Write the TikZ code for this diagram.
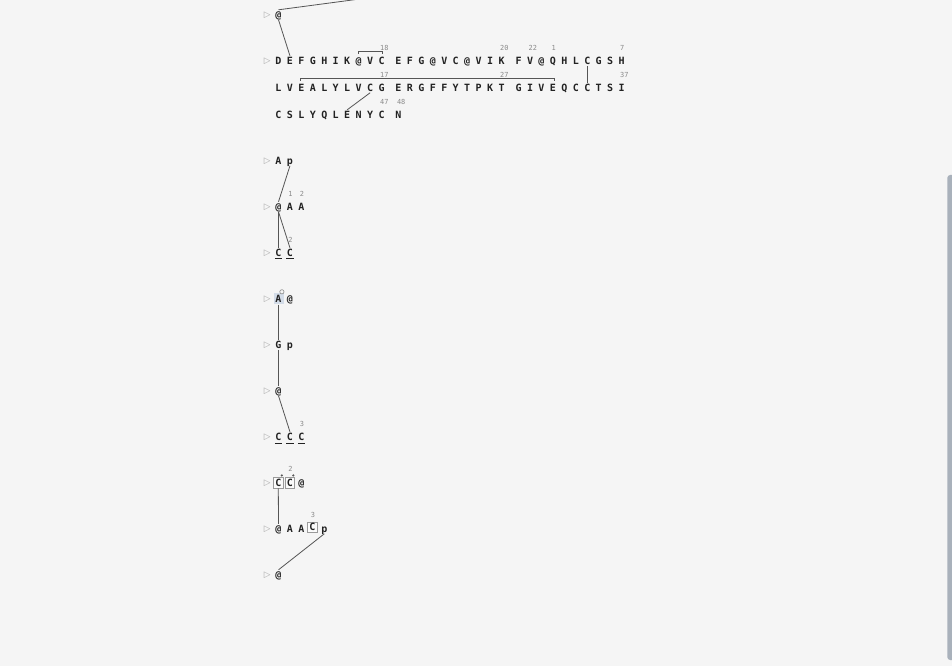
\documentclass[tikz,border=0pt]{standalone}
\usepackage{fontspec}
\setmonofont{DejaVu Sans Mono}
\newfontfamily\symfont{DejaVu Sans}
\usetikzlibrary{calc}
\definecolor{bg}{HTML}{F5F5F5}
\definecolor{ink}{HTML}{222222}
\definecolor{lnk}{HTML}{555555}
\definecolor{lblc}{HTML}{8A8A8A}
\definecolor{mkc}{HTML}{A8A8A8}
\definecolor{hl}{HTML}{D3DCE8}
\definecolor{boxc}{HTML}{9A9A9A}
\definecolor{sbar}{HTML}{A9B1BB}
\begin{document}
\begin{tikzpicture}[x=0.75pt,y=-0.75pt,
  ch/.style={font=\ttfamily\bfseries\fontsize{7.5}{8}\selectfont, text=ink, inner sep=0.9pt, text height=5.3pt, text depth=0pt, anchor=center},
  hlbox/.style={fill=hl, minimum width=7.5pt, minimum height=8.5pt},
  boxed/.style={draw=boxc, line width=0.5pt, fill=white!60!bg, minimum width=7.2pt, minimum height=8pt},
  lbl/.style={font=\ttfamily\fontsize{5.2}{6}\selectfont, text=lblc, inner sep=0pt, anchor=west},
  mk/.style={font=\symfont\fontsize{6.5}{7}\selectfont, text=mkc, inner sep=0pt},
  conn/.style={draw=lnk, line width=0.6pt},
  uline/.style={draw=ink, line width=0.75pt},
  dotn/.style={circle, fill=lnk, inner sep=0pt, minimum size=1.8pt},
  ring/.style={circle, draw=lblc, fill=bg, line width=0.45pt, inner sep=0pt, minimum size=3.2pt}]
\useasboundingbox (0,0) rectangle (952,666);
\fill[bg] (0,0) rectangle (952,666);
\clip (0,0) rectangle (952,666);
% scrollbar
\fill[sbar, rounded corners=2.2] (947.3,175) rectangle (956.5,660);
% markers
\foreach \yy [count=\k] in {14.8,60.8,160.8,206.8,252.8,298.8,344.8,390.8,436.8,482.8,528.8,574.8}
  \node[mk] (m\k) at (267.2,\yy) {▷};
% top @
\node[ch] (t0) at (278.5,14.8) {@};
\coordinate (tfree) at (362,-1.3);
% block 1 row 1
\foreach \lt [count=\i from 0] in {D,E,F,G,H,I,K,@,V,C}
  \node[ch] (r1a\i) at ({278.5+11.45*\i},60.8) {\lt};
\foreach \lt [count=\i from 0] in {E,F,G,@,V,C,@,V,I,K}
  \node[ch] (r1b\i) at ({398.5+11.45*\i},60.8) {\lt};
\foreach \lt [count=\i from 0] in {F,V,@,Q,H,L,C,G,S,H}
  \node[ch] (r1c\i) at ({518.6+11.45*\i},60.8) {\lt};
% row 2
\foreach \lt [count=\i from 0] in {L,V,E,A,L,Y,L,V,C,G}
  \node[ch] (r2a\i) at ({278.5+11.45*\i},87.8) {\lt};
\foreach \lt [count=\i from 0] in {E,R,G,F,F,Y,T,P,K,T}
  \node[ch] (r2b\i) at ({398.5+11.45*\i},87.8) {\lt};
\foreach \lt [count=\i from 0] in {G,I,V,E,Q,C,C,T,S,I}
  \node[ch] (r2c\i) at ({518.6+11.45*\i},87.8) {\lt};
% row 3
\foreach \lt [count=\i from 0] in {C,S,L,Y,Q,L,E,N,Y,C}
  \node[ch] (r3a\i) at ({278.5+11.45*\i},114.8) {\lt};
\node[ch] (r3b0) at (398.5,114.8) {N};
% labels block 1
\node[lbl] (l18) at ($(r1a9)+(-1.7,-13)$) {18};
\node[lbl] (l20) at ($(r1b9)+(-1.7,-13)$) {20};
\node[lbl] (l22) at ($(r1c1)+(-1.7,-13)$) {22};
\node[lbl] (l1) at ($(r1c3)+(-1.7,-13)$) {1};
\node[lbl] (l7) at ($(r1c9)+(-1.7,-13)$) {7};
\node[lbl] (l17) at ($(r2a9)+(-1.7,-13)$) {17};
\node[lbl] (l27) at ($(r2b9)+(-1.7,-13)$) {27};
\node[lbl] (l37) at ($(r2c9)+(-1.7,-13)$) {37};
\node[lbl] (l47) at ($(r3a9)+(-1.7,-13)$) {47};
\node[lbl] (l48) at ($(r3b0)+(-1.7,-13)$) {48};
% connectors block 1
\draw[conn] (t0.north) -- (tfree);
\draw[conn] (t0.south) -- (r1a1.north);
\draw[conn] ($(r1a7.north)+(0,-1.8)$) |- ($(r1a9.north)+(0.4,-4.2)$) -- ($(r1a9.north)+(0.4,-1.8)$);
\draw[conn] ($(r2a2.north)+(-0.6,-2)$) |- ($(r2c3.north)+(1.2,-4.6)$) -- ($(r2c3.north)+(1.2,-2)$);
\draw[conn] (r1c6.south) -- (r2c6.north);
\draw[conn] (r2a8.south) -- (r3a6.north);
% block 2
\node[ch] (s2a0) at (278.5,160.8) {A};
\node[ch] (s2a1) at (289.95,160.8) {p};
\node[ch] (s2b0) at (278.5,206.8) {@};
\node[ch] (s2b1) at (289.95,206.8) {A};
\node[ch] (s2b2) at (301.4,206.8) {A};
\node[ch] (s2c0) at (278.5,252.8) {C};
\node[ch] (s2c1) at (289.95,252.8) {C};
\node[lbl] (k1) at ($(s2b1)+(-1.8,-13)$) {1};
\node[lbl] (k2) at ($(s2b2)+(-1.8,-13)$) {2};
\node[lbl] (k3) at ($(s2c1)+(-1.8,-13)$) {2};
\draw[conn] (s2a1.south) -- (s2b0.north);
\draw[conn] (s2b0.south) -- (s2c0.north);
\draw[conn] (s2b0.south) -- (s2c1.north);
\foreach \n in {s2c0,s2c1}
  \draw[uline] ($(\n.south)+(-3.6,1.2)$) -- ($(\n.south)+(3.6,1.2)$);
% block 3
\node[ch,hlbox] (s3a0) at (278.5,298.6) {A};
\node[ring] (o1) at (281.9,291.8) {};
\node[ch] (s3a1) at (289.95,298.8) {@};
\node[ch] (s3b0) at (278.5,344.8) {G};
\node[ch] (s3b1) at (289.95,344.8) {p};
\node[ch] (s3c0) at (278.5,390.8) {@};
\node[ch] (s3d0) at (278.5,436.8) {C};
\node[ch] (s3d1) at (289.95,436.8) {C};
\node[ch] (s3d2) at (301.4,436.8) {C};
\node[lbl] (k4) at ($(s3d2)+(-1.8,-13)$) {3};
\foreach \n in {s3d0,s3d1,s3d2}
  \draw[uline] ($(\n.south)+(-3.6,1.2)$) -- ($(\n.south)+(3.6,1.2)$);
\draw[conn] (s3a0.south) -- (s3b0.north);
\draw[conn] (s3b0.south) -- (s3c0.north);
\draw[conn] (s3c0.south) -- (s3d1.north);
% block 4
\node[ch,boxed] (s4a0) at (278.3,482.6) {C};
\node[ch,boxed] (s4a1) at (289.8,482.6) {C};
\node[ch] (s4a2) at (301.4,482.8) {@};
\node[dotn] (d1) at (281.8,475.4) {};
\node[dotn] (d2) at (293.3,475.4) {};
\node[lbl] (k5) at ($(s4a1)+(-1.8,-13.2)$) {2};
\node[ch] (s4b0) at (278.5,528.8) {@};
\node[ch] (s4b1) at (289.95,528.8) {A};
\node[ch] (s4b2) at (301.4,528.8) {A};
\node[ch,boxed] (s4b3) at (312.3,527.3) {C};
\node[ch] (s4b4) at (324.3,528.8) {p};
\node[lbl] (k6) at ($(s4b3)+(-1.8,-12.3)$) {3};
\node[ch] (s4c0) at (278.5,574.8) {@};
\draw[conn] (s4a0.south) -- (s4b0.north);
\draw[conn] (s4b4.south) -- (s4c0.north);
\end{tikzpicture}
\end{document}
